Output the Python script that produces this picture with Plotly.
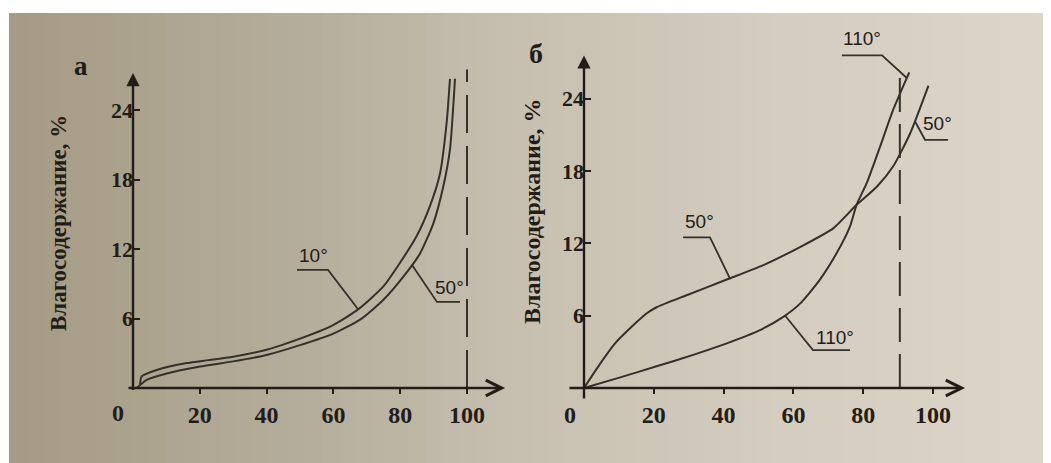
import numpy as np
import plotly.graph_objects as go

# ---------------- data ----------------
# panel "а": moisture content vs relative humidity at 10° and 50°
a_x_10 = [2.1, 2.6, 7.1, 16.1, 30.0, 40.0, 46.0, 59.0, 67.0, 74.9, 79.9, 84.9, 88.9, 91.9, 93.9, 94.9]
a_y_10 = [0.3, 1.0, 1.55, 2.15, 2.7, 3.3, 3.85, 5.3, 6.7, 8.75, 10.8, 13.1, 15.7, 18.5, 22.9, 26.7]
a_x_50 = [1.1, 4.1, 10.1, 20.1, 30.0, 40.0, 50.0, 60.0, 68.0, 74.9, 80.9, 85.9, 89.9, 92.9, 94.9, 96.4]
a_y_50 = [0.0, 0.7, 1.25, 1.85, 2.3, 2.85, 3.7, 4.7, 5.9, 7.6, 9.6, 11.6, 14.2, 17.4, 20.6, 26.7]

# panel "б": at 50° and 110°
b_x_50 = [0, 4.6, 8.9, 14.1, 18.0, 20.8, 29.4, 40.9, 51.4, 61.9, 71.4, 78.1, 83.9, 88.6, 93.4, 98.7]
b_y_50 = [0, 2.0, 3.7, 5.2, 6.2, 6.7, 7.7, 9.0, 10.2, 11.7, 13.25, 15.2, 16.7, 18.4, 21.1, 25.1]
b_x_110 = [0, 9.4, 20.8, 31.3, 40.9, 50.4, 57.1, 61.9, 67.6, 72.4, 76.2, 78.1, 81.0, 84.8, 88.6, 93.2]
b_y_110 = [0, 0.8, 1.8, 2.75, 3.7, 4.8, 5.9, 7.0, 9.0, 11.2, 13.4, 15.2, 17.0, 20.0, 23.1, 26.2]

x_ticks = [20, 40, 60, 80, 100]
y_ticks = [6, 12, 18, 24]
limit_a = 100      # dashed line, panel а
limit_b = 90.5     # dashed line, panel б

y_title = "Влагосодержание, %"
panel_labels = ["а", "б"]

# ---------------- styling ----------------
OFF = 8                      # default page margin of the html body
W, H = 1051 - OFF, 463 - OFF  # figure fills the window exactly
INK = "#231d18"
CURVE_INK = "#35302a"
SERIF = "Liberation Serif, Times New Roman, serif"
SANS = "Liberation Sans, Arial, sans-serif"


def xp(px):
    return (px - OFF) / W


def yp(py):
    return 1 - (py - OFF) / H


fig = go.Figure()

# paper background (photographed page: darker on the left, lighter to the right)
stops = [(0.0, (164, 154, 133)), (0.3, (183, 175, 157)), (0.5, (200, 192, 177)),
         (0.75, (213, 205, 191)), (1.0, (221, 213, 199))]
n_strips = 60
x_start = xp(9)
for i in range(n_strips):
    f0 = i / n_strips
    f1 = (i + 1) / n_strips
    fm = (f0 + f1) / 2
    for j in range(len(stops) - 1):
        if stops[j][0] <= fm <= stops[j + 1][0]:
            t = (fm - stops[j][0]) / (stops[j + 1][0] - stops[j][0])
            c = [round(stops[j][1][k] + t * (stops[j + 1][1][k] - stops[j][1][k])) for k in range(3)]
            break
    fig.add_shape(type="rect", xref="paper", yref="paper",
                  x0=x_start + f0 * (1 - x_start), x1=x_start + f1 * (1 - x_start) + 0.001,
                  y0=0, y1=yp(13), line_width=0,
                  fillcolor=f"rgb({c[0]},{c[1]},{c[2]})", layer="below")

line_style = dict(color=CURVE_INK, width=2, shape="spline", smoothing=0.6)

# curves
for xs, ys, ax, ay in [(a_x_10, a_y_10, "x", "y"), (a_x_50, a_y_50, "x", "y"),
                       (b_x_50, b_y_50, "x2", "y2"), (b_x_110, b_y_110, "x2", "y2")]:
    fig.add_trace(go.Scatter(x=xs, y=ys, mode="lines", line=line_style,
                             xaxis=ax, yaxis=ay, showlegend=False, hoverinfo="skip"))

# dashed limit lines
fig.add_trace(go.Scatter(x=[limit_a, limit_a], y=[0, 27.5], mode="lines",
                         line=dict(color=CURVE_INK, width=2, dash="38px,13px"),
                         xaxis="x", yaxis="y", showlegend=False, hoverinfo="skip"))
fig.add_trace(go.Scatter(x=[limit_b, limit_b], y=[0, 25.8], mode="lines",
                         line=dict(color=CURVE_INK, width=2, dash="34px,12px"),
                         xaxis="x2", yaxis="y2", showlegend=False, hoverinfo="skip"))


# curve labels with leader lines (attach point lies on the curve)
def leader(xs, ys, attach_x, far, elbow, text, text_pos, ax, ay):
    attach_y = float(np.interp(attach_x, xs, ys))
    fig.add_trace(go.Scatter(x=[far[0], elbow[0], attach_x], y=[far[1], elbow[1], attach_y],
                             mode="lines", line=dict(color=CURVE_INK, width=1.8),
                             xaxis=ax, yaxis=ay, showlegend=False, hoverinfo="skip"))
    fig.add_annotation(x=text_pos[0], y=text_pos[1], xref=ax, yref=ay, text=text, showarrow=False,
                       xanchor="center", yanchor="middle",
                       font=dict(family=SANS, size=19, color=INK))


leader(a_x_10, a_y_10, 67.4, (49.1, 10.2), (58.4, 10.2), "10°", (53.9, 11.4), "x", "y")
leader(a_x_50, a_y_50, 83.5, (97.9, 7.43), (91.0, 7.43), "50°", (94.9, 8.7), "x", "y")
leader(b_x_110, b_y_110, 92.5, (73.9, 27.6), (85.4, 27.6), "110°", (79.6, 29.0), "x2", "y2")
leader(b_x_50, b_y_50, 94.8, (104.3, 20.6), (97.7, 20.6), "50°", (101.4, 21.95), "x2", "y2")
leader(b_x_50, b_y_50, 41.8, (28.4, 12.5), (36.1, 12.5), "50°", (33.0, 13.8), "x2", "y2")
leader(b_x_110, b_y_110, 57.6, (76.2, 3.15), (65.6, 3.15), "110°", (71.9, 4.2), "x2", "y2")


# axes drawn as arrows
def arrow(ax_, ay_, tail, tip, head, size):
    fig.add_annotation(x=tip[0], y=tip[1], ax=tail[0], ay=tail[1], xref=ax_, yref=ay_,
                       axref=ax_, ayref=ay_, text="", showarrow=True, arrowhead=head,
                       arrowsize=size, arrowwidth=2.4, arrowcolor=INK)


arrow("x", "y", (-1.8, 0), (111.4, 0), 5, 1.3)
arrow("x", "y", (0, -0.3), (0, 27.2), 2, 1.1)
arrow("x2", "y2", (-4.6, 0), (109.2, 0), 5, 1.3)
arrow("x2", "y2", (0, -1.0), (0, 27.6), 2, 1.1)

# fonts
x_tick_font = dict(family=SERIF, size=24, color=INK, weight="bold")
y_tick_font = dict(family=SERIF, size=22, color=INK, weight="bold")


def paper_text(px, py, text, font, angle=0):
    fig.add_annotation(x=xp(px), y=yp(py), xref="paper", yref="paper", text=text,
                       textangle=angle, showarrow=False, xanchor="center", yanchor="middle",
                       font=font)


# "0" at the origin, y titles, panel letters
paper_text(118, 413, "0", x_tick_font)
paper_text(570, 415, "0", x_tick_font)
paper_text(58, 223, y_title, dict(family=SERIF, size=23, color=INK, weight="bold"), -90)
paper_text(532, 211, y_title, dict(family=SERIF, size=24, color=INK, weight="bold"), -90)
paper_text(81, 66, panel_labels[0], dict(family=SERIF, size=27, color=INK, weight="bold"))
paper_text(536, 54, panel_labels[1], dict(family=SERIF, size=28, color=INK, weight="bold"))

x_axis_common = dict(showgrid=False, zeroline=False, showline=False, ticks="outside",
                     ticklen=5, tickwidth=2, tickcolor=INK, tickfont=x_tick_font,
                     anchor="free", fixedrange=True)
y_axis_common = dict(showgrid=False, zeroline=False, showline=False, ticks="inside",
                     ticklen=6, tickwidth=2, tickcolor=INK, tickfont=y_tick_font,
                     anchor="free", fixedrange=True)

# pixel geometry of the panels (reference picture coordinates)
# panel а: x = 0 at 133 px, 3.34 px per unit; y = 0 at 388 px, 11.58 px per unit
# panel б: x = 0 at 584 px, 3.49 px per unit; y = 0 at 388 px, 12.05 px per unit
a_xr, a_yr = [-3, 115], [-1, 28]
b_xr, b_yr = [-5, 112], [-1, 29.5]

fig.update_layout(
    width=W, height=H, autosize=False,
    margin=dict(l=0, r=0, t=0, b=0),
    paper_bgcolor="white", plot_bgcolor="rgba(0,0,0,0)",
    xaxis=dict(domain=[xp(133 + 3.34 * a_xr[0]), xp(133 + 3.34 * a_xr[1])], range=a_xr,
               tickvals=x_ticks, position=yp(388), **x_axis_common),
    yaxis=dict(domain=[yp(388 - 11.58 * a_yr[0]), yp(388 - 11.58 * a_yr[1])], range=a_yr,
               tickvals=y_ticks, position=xp(133), **y_axis_common),
    xaxis2=dict(domain=[xp(584 + 3.49 * b_xr[0]), xp(584 + 3.49 * b_xr[1])], range=b_xr,
                tickvals=x_ticks, position=yp(388), **x_axis_common),
    yaxis2=dict(domain=[yp(388 - 12.05 * b_yr[0]), yp(388 - 12.05 * b_yr[1])], range=b_yr,
                tickvals=y_ticks, position=xp(584), **y_axis_common),
    showlegend=False,
)

fig.write_html("out.html")
